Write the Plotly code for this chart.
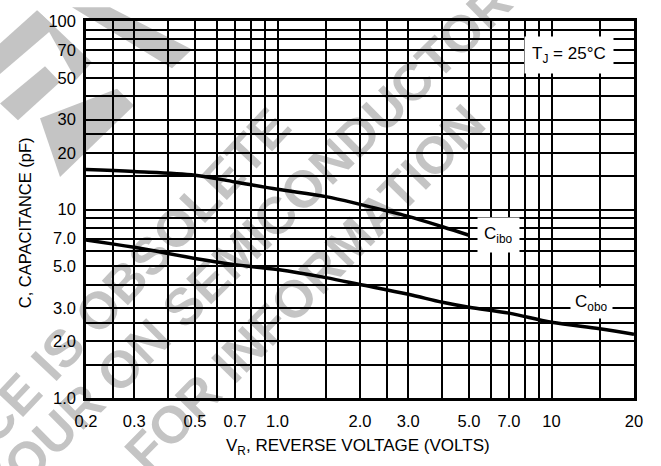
import math
import plotly.graph_objects as go

# ---- data ----
vr_ibo = [0.2, 0.3, 0.5, 0.7, 1.0, 1.5, 2.0, 3.0, 4.0, 5.0]
c_ibo = [16.3, 15.9, 15.2, 14.0, 12.8, 11.7, 10.65, 9.2, 8.1, 7.3]

vr_obo = [0.2, 0.3, 0.5, 0.7, 1.0, 1.5, 2.0, 3.0, 4.0, 5.0, 7.0, 10, 15, 20]
c_obo = [6.9, 6.3, 5.5, 5.1, 4.8, 4.35, 4.0, 3.55, 3.22, 3.03, 2.82, 2.52, 2.33, 2.18]

x_tickvals = [0.2, 0.3, 0.5, 0.7, 1, 2, 3, 5, 7, 10, 20]
x_ticktext = ["0.2", "0.3", "0.5", "0.7", "1.0", "2.0", "3.0", "5.0", "7.0", "10", "20"]
x_minor = [0.25, 0.4, 0.6, 0.8, 0.9, 1.5, 2.5, 4, 6, 8, 9, 15]

y_tickvals = [1, 2, 3, 5, 7, 10, 20, 30, 50, 70, 100]
y_ticktext = ["1.0", "2.0", "3.0", "5.0", "7.0", "10", "20", "30", "50", "70", "100"]
y_minor = [1.5, 2.5, 4, 6, 8, 9, 15, 25, 40, 60, 80, 90]

FONT = "Liberation Sans, Arial, sans-serif"
W, H = 661, 466
ML, MR, MT, MB = 86, 27, 14, 68
PW, PH = W - ML - MR, H - MT - MB


def px(x, y):
    return (x - ML) / PW, (H - MB - y) / PH


def poly(points):
    pts = [px(x, y) for x, y in points]
    return "M " + " L ".join(f"{a:.4f},{b:.4f}" for a, b in pts) + " Z"


fig = go.Figure()
fig.add_trace(go.Scatter(x=vr_ibo, y=c_ibo, mode="lines", line=dict(color="black", width=3.5, shape="spline"),
                         hoverinfo="skip", showlegend=False))
fig.add_trace(go.Scatter(x=vr_obo, y=c_obo, mode="lines", line=dict(color="black", width=3.5, shape="spline"),
                         hoverinfo="skip", showlegend=False))

WM = "#c4c4c4"
shapes = []
# big grey watermark strokes (top-left)
for pts in [
    [(72, 0), (110, 0), (192, 43), (172, 62)],
    [(0, 37), (37, 3), (55, 20), (0, 68)],
    [(37, 3), (55, 20), (92, 56), (76, 74)],
    [(0, 98), (45, 60), (60, 76), (18, 115)],
    [(40, 113), (117, 83), (134, 100), (60, 173)],
]:
    shapes.append(dict(type="path", path=poly(pts), xref="paper", yref="paper", layer="below",
                       fillcolor=WM, line=dict(width=0)))

# watermark text (bold)
AW = dict(A=.722, B=.722, C=.722, D=.722, E=.667, F=.611, G=.778, H=.722, I=.278, J=.556, K=.722,
          L=.611, M=.833, N=.722, O=.778, P=.667, Q=.778, R=.722, S=.667, T=.611, U=.722, V=.667,
          W=.944, X=.667, Y=.667, Z=.611)


def emw(t):
    return sum(AW.get(c, .278) for c in t)


WM_SIZE = 52
# (text, index of anchor letter, anchor pixel centre, angle in degrees)
wm_lines = [
    ("THIS DEVICE IS OBSOLETE", 22, (265, 125), -46.8),
    ("YOUR ON SEMICONDUCTOR", 8, (180, 300), -44.5),
    ("FOR INFORMATION", 14, (460, 120), -45.6),
]
for t, k, (ax, ay), ang in wm_lines:
    a_em = emw(t[:k]) + AW.get(t[k], .278) / 2
    off = (emw(t) / 2 - a_em) * WM_SIZE
    dx, dy = math.cos(math.radians(ang)), math.sin(math.radians(ang))
    cx, cy = ax + off * dx, ay + off * dy
    x0, y0 = px(cx - 40 * dx, cy - 40 * dy)
    x1, y1 = px(cx + 40 * dx, cy + 40 * dy)
    shapes.append(dict(type="line", xref="paper", yref="paper", x0=x0, y0=y0, x1=x1, y1=y1,
                       layer="below", line=dict(width=0, color="rgba(0,0,0,0)"),
                       label=dict(text=t, textposition="middle", textangle=ang, xanchor="center",
                                  yanchor="middle", padding=0,
                                  font=dict(family=FONT, size=WM_SIZE, color=WM, weight="bold"))))


def ann(text, x, y, **kw):
    ax, ay = px(x, y)
    d = dict(text=text, xref="paper", yref="paper", x=ax, y=ay, xanchor="center", yanchor="middle",
             showarrow=False)
    d.update(kw)
    return d


GW = 1.5
fig.update_layout(
    width=W, height=H,
    margin=dict(l=ML, r=MR, t=MT, b=MB),
    paper_bgcolor="white", plot_bgcolor="white",
    font=dict(family=FONT, size=16.5, color="black"),
    shapes=shapes,
    xaxis=dict(type="log", range=[-0.69897, 1.30103], tickvals=x_tickvals, ticktext=x_ticktext,
               showgrid=True, gridcolor="black", gridwidth=GW, ticks="", ticklabelstandoff=6,
               minor=dict(tickvals=x_minor, showgrid=True, gridcolor="black", gridwidth=GW, ticks=""),
               showline=True, mirror=True, linecolor="black", linewidth=2.5, zeroline=False),
    yaxis=dict(type="log", range=[0, 2], tickvals=y_tickvals, ticktext=y_ticktext,
               showgrid=True, gridcolor="black", gridwidth=GW, ticks="", ticklabelstandoff=4,
               minor=dict(tickvals=y_minor, showgrid=True, gridcolor="black", gridwidth=GW, ticks=""),
               showline=True, mirror=True, linecolor="black", linewidth=2.5, zeroline=False),
    annotations=[
        ann("T<sub>J</sub> = 25°C", 569, 49, bgcolor="white", borderpad=7, font=dict(size=17)),
        ann("C<sub>ibo</sub>", 498, 232, bgcolor="white", borderpad=6, font=dict(size=17)),
        ann("C<sub>obo</sub>", 591, 301, bgcolor="white", borderpad=4, font=dict(size=17)),
        ann("C, CAPACITANCE (pF)", 25, 220, textangle=-90, font=dict(size=16.5)),
        ann("V<sub>R</sub>, REVERSE VOLTAGE (VOLTS)", 358, 448, font=dict(size=17)),
    ],
)

fig.write_html("out.html", config=dict(displayModeBar=False),
               post_script="document.body.style.margin='0';document.body.style.overflow='hidden';")
